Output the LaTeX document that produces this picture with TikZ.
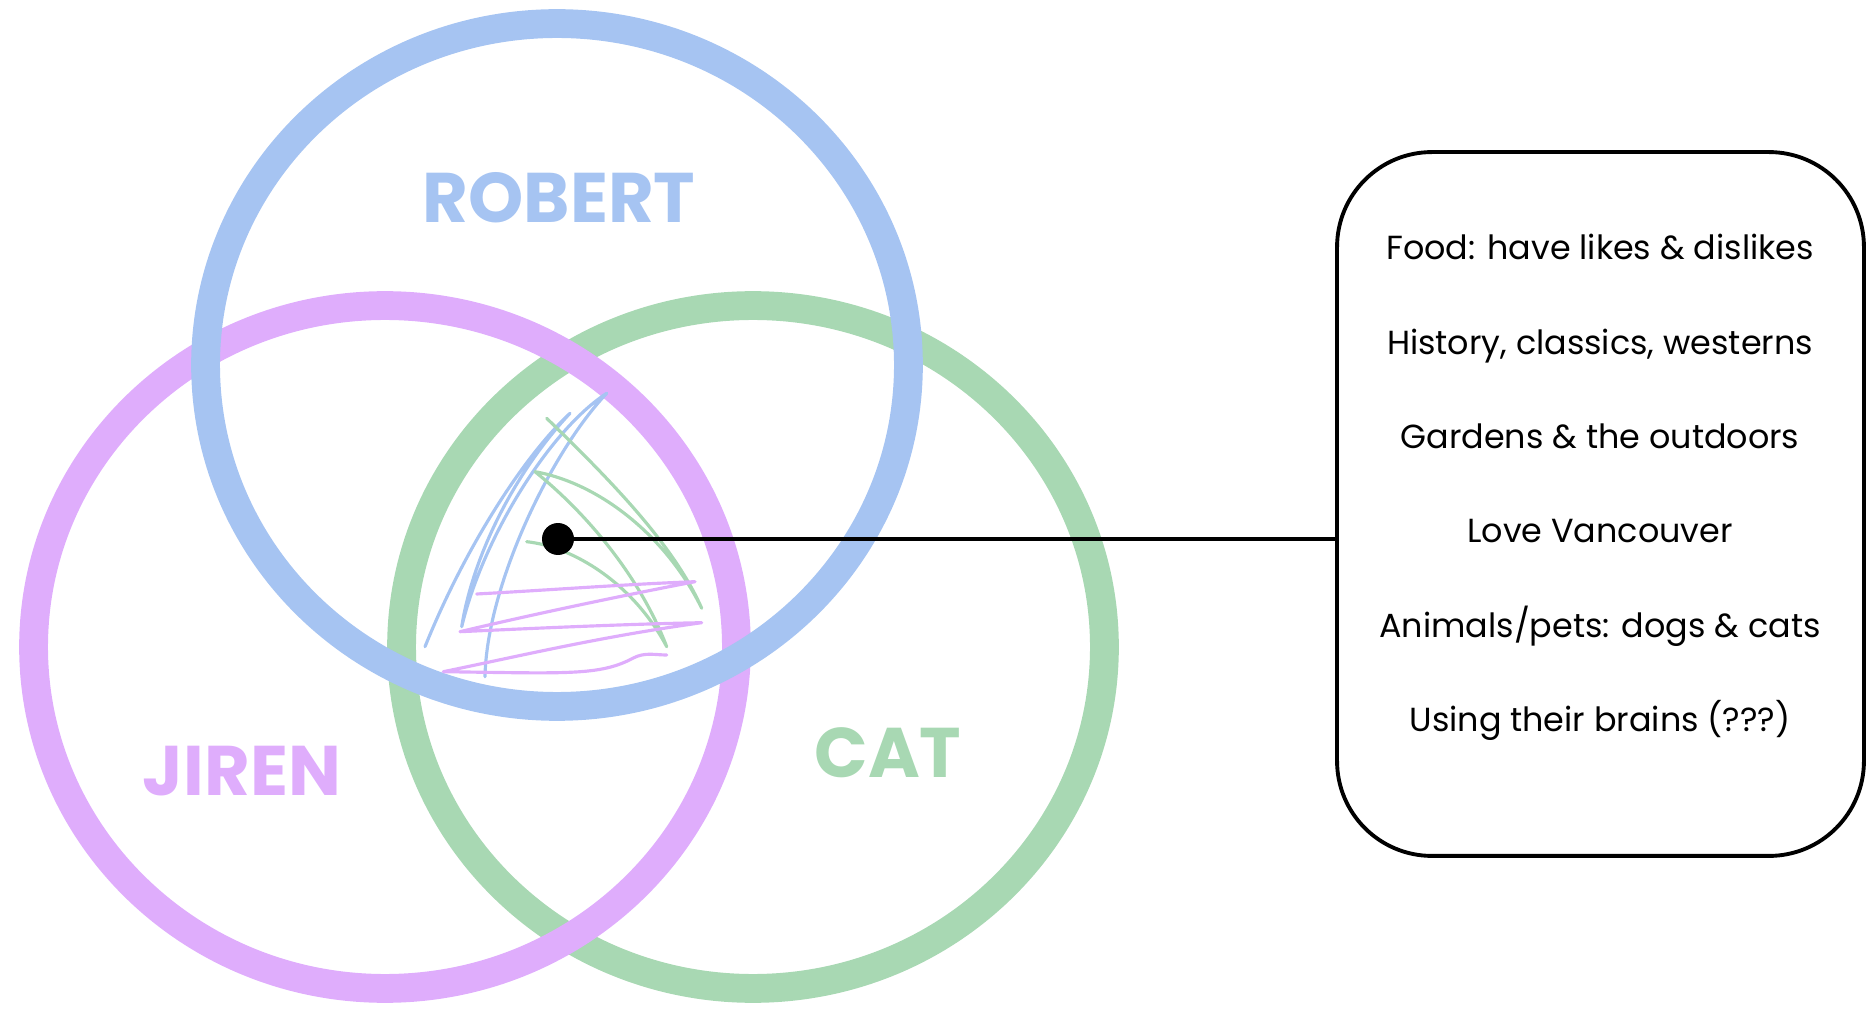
\documentclass[tikz,border=0pt]{standalone}
\usepackage{fontspec}
\setmainfont{Poppins}
\definecolor{robertblue}{HTML}{A6C4F2}
\definecolor{jirenpurple}{HTML}{DFADFC}
\definecolor{catgreen}{HTML}{A8D8B3}
\begin{document}
\begin{tikzpicture}[x=0.02cm,y=-0.02cm,
    ring/.style={line width=16.4pt},
    who/.style={font=\fontsize{40}{40}\selectfont\bfseries},
    scribble/.style={line width=1.8pt,line cap=round,line join=round},
    item/.style={font=\fontsize{19}{19}\selectfont,text height=0.72em,text depth=0.22em}]

\useasboundingbox (0,0) rectangle (1874,1016);

% ===== Ba vong tron =====
\draw[ring,catgreen] (753,647) ellipse [x radius=7.03cm,y radius=6.83cm];
\draw[ring,jirenpurple] (385,647) ellipse [x radius=7.03cm,y radius=6.83cm];
\draw[ring,robertblue] (557,365) ellipse [x radius=7.03cm,y radius=6.83cm];

% ===== Ten =====
\node[who,text=robertblue] (robert) at (559,198) {ROBERT};
\node[who,text=jirenpurple] (jiren) at (242,771) {JIREN};
\node[who,text=catgreen] (cat) at (888,753) {CAT};

% ===== Net ve o giua =====
\draw[scribble,robertblue] (425,646.7) .. controls (466.7,543.3) and (526.7,453.3) .. (570,413.3)
    .. controls (516.7,470) and (473.3,553.3) .. (461.7,626.7)
    .. controls (483.3,536.7) and (550,430) .. (606.7,393.3)
    .. controls (550,453.3) and (486.7,586.7) .. (485,676.7);
\draw[scribble,catgreen] (546.7,418.3) .. controls (606.7,476.7) and (673.3,543.3) .. (701.7,608.3)
    .. controls (666.7,536.7) and (600,483.3) .. (535,471.7)
    .. controls (586.7,513.3) and (640,576.7) .. (666.7,646.7)
    .. controls (633.3,583.3) and (573.3,546.7) .. (526.7,541.7);
\draw[scribble,jirenpurple] (476.7,594) .. controls (550,590) and (630,584) .. (695,581.7)
    .. controls (620,596) and (530,615) .. (460,631.7)
    .. controls (540,628) and (630,624) .. (701.7,622.7)
    .. controls (600,636.7) and (516.7,656.7) .. (443.3,671.7)
    .. controls (566.7,673.3) and (600,676) .. (633.3,658)
    .. controls (645,652) and (655,655) .. (666.7,655);

% ===== Diem va hop =====
\node[circle,fill=black,inner sep=0pt,minimum size=0.64cm] (dot) at (558,539) {};
\node[draw,line width=2.2pt,rounded corners=1.9cm,minimum width=10.54cm,minimum height=14.08cm]
    (facts) at (1600.5,504) {};
\draw[line width=2.2pt] (dot) -- (dot -| facts.west);

\foreach \t [count=\i] in {Food: have likes \& dislikes,History{,} classics{,} westerns,
    Gardens \& the outdoors,Love Vancouver,Animals/pets: dogs \& cats,Using their brains (???)} {
    \node[item] (item\i) at (1600,161+94.4*\i) {\t};
}

\end{tikzpicture}
\end{document}
